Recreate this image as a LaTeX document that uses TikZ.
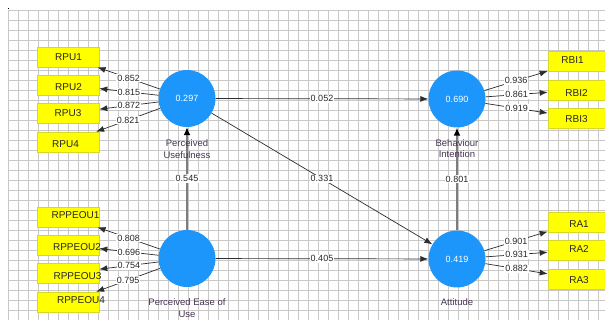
\documentclass[tikz,border=0pt]{standalone}
\usepackage{fontspec}
\setmainfont{Liberation Sans}
\usetikzlibrary{arrows.meta}
\definecolor{lvblue}{RGB}{28,150,250}
\definecolor{boxyel}{RGB}{255,255,0}
\definecolor{boxbd}{RGB}{215,215,40}
\definecolor{gridc}{RGB}{200,200,200}
\definecolor{namec}{RGB}{72,52,82}
\definecolor{linec}{RGB}{45,45,45}
\definecolor{vlinec}{RGB}{125,125,125}
\tikzset{
  lv/.style={circle, fill=lvblue, minimum size=57pt, inner sep=0pt, text=white, font=\fontsize{9}{10}\selectfont},
  ind/.style={rectangle, fill=boxyel, draw=boxbd, line width=0.6pt, minimum width=62pt, minimum height=20pt, inner sep=0pt},
  boxtxt/.style={font=\fontsize{10}{12}\selectfont, text=black!85, inner sep=0pt},
  ld/.style={fill=white, inner sep=1pt, font=\fontsize{9}{10}\selectfont, text=black!85},
  lvname/.style={align=center, font=\fontsize{9.5}{11.5}\selectfont, text=namec, inner sep=0pt},
  arr/.style={draw=linec, line width=0.7pt, -{Latex[length=8pt,width=6pt]}},
  varr/.style={draw=vlinec, line width=1.4pt, -{Latex[length=8pt,width=7pt,color=black]}},
}
\begin{document}
\begin{tikzpicture}[x=1pt,y=-1pt]
\useasboundingbox (0,0) rectangle (605,320);
\fill[white] (0,0) rectangle (605,320);
% grid
\foreach \gx in {8,18,...,598} {\draw[gridc, line width=0.8pt] (\gx,10) -- (\gx,320);}
\foreach \gy in {10,20,...,320} {\draw[gridc, line width=0.8pt] (8,\gy) -- (605,\gy);}
\fill[black] (7.5,8.5) rectangle (8.5,9.5);

% latent variables
\node[lv] (pu) at (187,98.5) {0.297};
\node[lv] (peou) at (187,258.5) {};
\node[lv] (bi) at (457,99) {0.690};
\node[lv] (att) at (457,259) {0.419};

% indicators left
\node[ind, label={[boxtxt, xshift=0.5pt, yshift=0.3pt]center:RPU1}] (rpu1) at (68,57) {};
\node[ind, label={[boxtxt, xshift=0.5pt, yshift=-2.5pt]center:RPU2}] (rpu2) at (68,85) {};
\node[ind, label={[boxtxt, xshift=0pt, yshift=0pt]center:RPU3}] (rpu3) at (68,113) {};
\node[ind, label={[boxtxt, xshift=-2.5pt, yshift=-2pt]center:RPU4}] (rpu4) at (68,142) {};
\node[ind, label={[boxtxt, xshift=7.5pt, yshift=2pt]center:RPPEOU1}] (rp1) at (68,217) {};
\node[ind, label={[boxtxt, xshift=9pt, yshift=-2pt]center:RPPEOU2}] (rp2) at (68,245) {};
\node[ind, label={[boxtxt, xshift=9.5pt, yshift=-3pt]center:RPPEOU3}] (rp3) at (68,273) {};
\node[ind, label={[boxtxt, xshift=13pt, yshift=2pt]center:RPPEOU4}] (rp4) at (68,302) {};

% indicators right
\node[ind, label={[boxtxt, xshift=-6.5pt, yshift=1.5pt]center:RBI1}] (rbi1) at (579,61.5) {};
\node[ind, label={[boxtxt, xshift=-2.5pt, yshift=-3pt]center:RBI2}] (rbi2) at (579,90) {};
\node[ind, label={[boxtxt, xshift=-2.5pt, yshift=-1pt]center:RBI3}] (rbi3) at (579,118) {};
\node[ind, label={[boxtxt, xshift=0pt, yshift=-2pt]center:RA1}] (ra1) at (579,222) {};
\node[ind, label={[boxtxt, xshift=0pt, yshift=1pt]center:RA2}] (ra2) at (579,250) {};
\node[ind, label={[boxtxt, xshift=0pt, yshift=-1pt]center:RA3}] (ra3) at (579,279) {};

% structural paths
\draw[arr] (pu) -- node[ld] (l052) {0.052} (bi);
\draw[arr] (pu) -- node[ld] (l331) {0.331} (att);
\draw[arr] (peou) -- node[ld] (l405) {0.405} (att);
\draw[varr] (peou) -- node[ld] (l545) {0.545} (pu);
\draw[varr] (att) -- node[ld] (l801) {0.801} (bi);

% loadings
\draw[arr] (pu) -- node[ld] (a1) {0.852} (rpu1);
\draw[arr] (pu) -- node[ld] (a2) {0.815} (rpu2);
\draw[arr] (pu) -- node[ld] (a3) {0.872} (rpu3);
\draw[arr] (pu) -- node[ld] (a4) {0.821} (rpu4);
\draw[arr] (peou) -- node[ld] (b1) {0.808} (rp1);
\draw[arr] (peou) -- node[ld] (b2) {0.696} (rp2);
\draw[arr] (peou) -- node[ld] (b3) {0.754} (rp3);
\draw[arr] (peou) -- node[ld] (b4) {0.795} (rp4);
\draw[arr] (bi) -- node[ld] (c1) {0.936} (rbi1);
\draw[arr] (bi) -- node[ld] (c2) {0.861} (rbi2);
\draw[arr] (bi) -- node[ld] (c3) {0.919} (rbi3);
\draw[arr] (att) -- node[ld] (d1) {0.901} (ra1);
\draw[arr] (att) -- node[ld] (d2) {0.931} (ra2);
\draw[arr] (att) -- node[ld] (d3) {0.882} (ra3);

% construct names (on top of the paths)
\node[lvname] (puname) at (187,149) {Perceived\\Usefulness};
\node[lvname] (biname) at (457,148.5) {Behaviour\\Intention};
\node[lvname] (peouname) at (187,308) {Perceived Ease of\\Use};
\node[lvname] (attname) at (457,302) {Attitude};
\end{tikzpicture}
\end{document}
